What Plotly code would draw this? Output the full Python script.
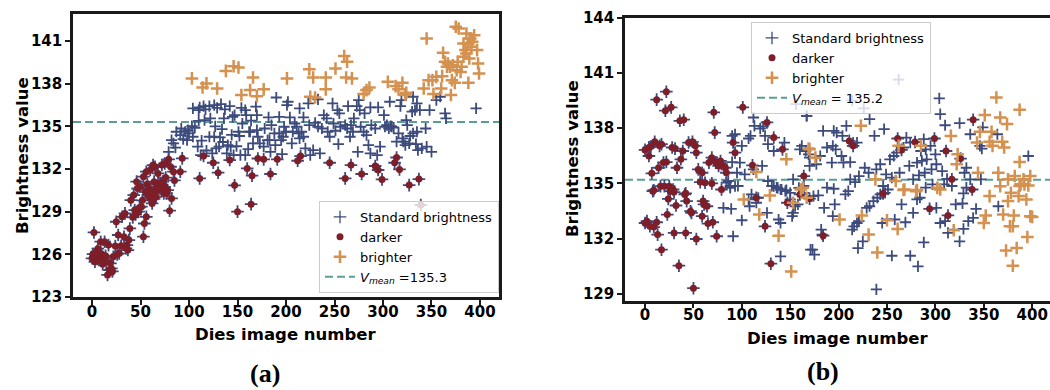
import plotly.graph_objects as go

# ---------------- data: panel (a) ----------------
A_STD_X = [79,84,82,87,91,92,96,99,103,104,98,109,112,104,110,111,115,121,126,133,142,122,110,121,126,132,140,128,139,146,153,158,152,158,159,145,147,169,170,171,162,131,143,116,136,151,166,
           86,94,100,106,113,118,127,134,135,144,149,155,161,164,117,129,137,154,124,
           163,177,181,184,189,193,197,196,206,207,211,213,216,218,220,225,228,235,237,243,245,254,256,263,266,269,274,283,285,287,294,297,302,306,309,314,320,323,328,331,334,336,340,345,350,344,
           182,190,193,201,202,204,214,218,223,233,239,242,248,253,255,261,264,270,273,275,276,281,287,288,295,301,307,318,319,324,330,331,333,335,338,348,355,359,364,365,396,
           170,178,185,198,200,209,224,230,233,249,251,267,277,280,292,304,308,311,316,321,327,335,325,214,195,183,173,188]
A_STD_Y = [133.21,133.80,134.03,134.62,134.38,134.85,134.62,134.74,135.02,134.27,134.03,133.57,132.98,136.26,136.14,136.33,136.42,136.42,136.49,136.56,136.42,135.56,135.39,134.27,134.27,134.22,133.68,133.45,133.10,132.98,132.98,132.98,134.32,136.14,135.79,135.67,135.79,136.38,135.79,134.27,134.62,133.57,133.57,135.44,135.56,134.62,133.80,
           133.50,134.10,134.50,134.90,134.00,133.30,135.00,134.80,133.90,134.40,133.60,135.20,133.40,135.40,136.20,136.30,136.20,136.30,133.10,
           134.62,133.57,134.03,133.21,133.68,134.50,134.27,133.05,133.80,134.62,134.97,134.50,134.62,134.27,133.45,132.98,133.33,133.10,134.85,134.62,134.27,133.75,134.97,134.85,134.27,134.62,133.21,134.38,133.68,133.10,132.98,133.57,134.97,134.85,134.97,133.92,134.15,133.68,134.32,134.50,133.75,133.33,133.45,133.57,133.21,134.85,
           135.63,137.03,135.67,136.49,136.73,135.63,136.26,135.63,136.61,136.89,135.79,135.56,136.61,136.14,135.91,135.09,136.42,135.56,136.42,136.84,136.14,135.91,136.33,135.09,136.33,135.79,136.73,136.42,136.84,135.44,136.03,137.08,136.14,136.61,136.14,136.14,136.84,137.08,135.91,135.56,136.26,
           134.74,134.85,135.09,134.97,134.62,135.20,135.09,135.25,134.97,135.20,134.69,135.09,134.97,134.62,134.85,135.09,135.02,134.92,134.50,133.92,133.80,134.62,135.09,134.15,134.03,134.03,133.80,134.50]

A_DARK_X = [2,0,1,5,3,7,8,10,12,9,13,16,18,20,19,15,24,17,22,25,27,28,31,34,33,36,37,35,39,40,43,47,44,48,51,53,54,56,57,62,58,63,67,70,75,74,77,80,82,66,71,
            53,56,60,63,65,68,72,75,79,81,84,91,93,67,64,59,61,78,73,50,46,
            4,6,11,14,21,26,30,38,42,45,49,52,55,59,64,69,76,85,
            111,115,125,130,142,147,160,165,171,150,164,177,184,191,212,215,245,261,267,278,292,295,299,312,314,317,327,337,339]
A_DARK_Y = [127.54,125.72,126.02,126.19,125.48,125.60,125.83,126.02,125.72,126.89,126.89,124.55,124.90,125.01,125.37,125.48,126.58,126.65,125.83,128.29,127.36,126.07,128.64,128.88,127.24,126.65,126.30,126.42,127.82,129.81,130.17,130.63,129.11,129.00,129.35,127.24,128.17,128.64,130.94,129.58,130.17,130.40,130.52,130.63,130.75,130.28,130.28,129.07,129.93,130.05,130.98,
            131.46,131.81,131.93,132.28,132.16,131.69,132.28,132.39,132.68,132.16,131.81,131.81,132.75,130.76,131.11,130.64,130.29,130.52,131.11,130.76,131.11,
            125.90,126.40,125.30,125.90,124.80,126.00,126.60,127.00,128.60,128.80,129.30,129.80,130.40,130.00,129.90,131.00,131.40,131.20,
            131.34,132.91,132.44,131.74,132.63,130.85,132.04,131.53,132.74,129.00,129.53,132.68,131.65,132.68,132.58,132.91,132.44,131.34,132.28,131.65,132.21,131.93,131.27,132.44,132.81,131.97,130.87,131.29,129.47]

A_BRIGHT_X = [103,114,118,129,138,146,151,154,163,166,170,177,201,224,228,225,230,241,241,251,260,263,262,268,280,283,286,305,313,316,320,323,324,345,
              342,347,351,355,361,362,364,366,369,371,374,376,377,383,386,390,394,391,389,375,378,398,399,397,360,352,370,
              383,388,385,381,380,386,392,388,367,372]
A_BRIGHT_Y = [138.37,137.73,138.02,137.66,138.90,139.23,139.14,137.20,137.55,138.44,137.12,137.60,138.37,139.02,138.44,137.08,137.03,138.44,137.60,139.07,139.94,139.54,138.44,138.37,137.27,137.55,137.73,138.13,137.83,137.60,138.06,137.20,137.36,141.18,
              137.66,138.25,138.25,138.48,138.53,140.17,139.54,139.19,139.19,138.25,138.06,138.95,139.54,139.89,141.53,141.18,141.41,140.59,139.77,142.00,141.88,139.42,138.72,140.36,137.66,137.27,137.20,
              140.83,140.83,140.36,139.19,138.83,140.12,140.94,138.07,139.42,139.30]
MEAN_A = 135.3

# ---------------- data: panel (b) ----------------
B_STD_X = [112,90,93,100,107,109,113,119,122,124,127,133,144,156,167,160,169,170,90,98,95,103,86,88,93,112,121,127,133,137,141,146,153,159,164,
           84,88,96,81,89,100,91,107,110,108,115,117,126,131,136,140,145,150,138,140,140,152,153,155,158,150,171,
           167,184,195,198,204,208,215,219,226,232,237,247,188,194,197,203,205,212,193,177,170,166,162,181,227,231,212,217,221,243,239,253,257,260,267,270,274,288,285,281,286,291,300,301,290,295,249,255,263,273,277,283,289,296,307,312,304,305,310,325,336,346,348,364,349,332,330,336,347,396,262,214,
           164,174,179,188,195,207,210,185,196,194,182,183,173,175,214,216,219,221,220,225,229,232,236,240,243,246,251,248,245,250,258,255,265,269,274,277,281,284,282,288,239,290,297,301,305,310,313,319,329,325,321,328,329,332,334,339,342,365,309,317]
B_STD_Y = [138.58,137.58,137.67,137.04,137.44,137.58,138.13,137.98,138.09,137.58,137.13,136.76,137.22,139.31,138.67,136.85,136.58,135.95,136.16,136.13,135.58,135.49,135.13,134.76,134.85,135.76,135.95,135.13,134.85,134.76,134.67,134.64,135.22,134.76,134.49,
           135.04,134.86,134.86,133.67,133.62,133.00,132.13,134.13,134.40,133.76,133.95,134.22,133.40,134.86,134.77,134.67,134.58,134.49,133.04,132.85,131.04,133.22,133.40,133.76,133.86,134.13,131.40,
           138.67,137.85,137.85,137.76,137.58,138.13,137.22,137.22,139.07,138.49,137.58,137.95,136.95,137.04,136.85,136.49,136.13,136.16,136.13,136.04,136.40,136.76,137.04,136.49,135.85,135.58,135.22,135.07,135.40,136.04,135.76,136.31,136.49,136.67,136.95,137.49,137.22,137.40,136.76,136.13,136.22,136.31,136.58,136.04,136.85,137.04,135.49,135.31,135.58,135.95,135.22,135.44,135.58,135.76,135.67,135.25,139.62,138.76,138.16,138.27,137.67,137.04,136.89,137.67,138.04,135.85,135.58,135.22,135.22,136.49,140.64,139.50,
           134.86,134.31,134.35,134.77,134.71,134.40,134.58,133.67,133.86,133.22,132.49,132.22,131.40,131.13,132.49,132.67,132.85,132.95,131.49,131.85,133.67,133.76,134.04,134.22,134.40,134.86,134.67,134.49,132.85,133.04,133.04,131.07,133.86,132.89,131.07,133.40,134.13,134.22,130.49,131.80,129.25,134.77,134.95,133.67,132.85,132.95,132.31,132.49,132.53,131.85,133.86,133.91,134.46,134.77,132.95,133.13,133.62,133.76,134.95,134.86]

B_DARK_X = [12,22,21,27,36,40,71,72,0,4,6,10,4,7,9,15,17,16,20,25,14,19,22,28,31,26,29,33,37,39,41,45,49,52,53,59,55,66,69,73,76,79,83,84,74,78,91,93,101,111,126,133,142,164,
            0,2,5,9,12,13,17,8,24,30,23,32,30,35,42,43,42,47,48,50,53,57,62,69,60,61,64,59,65,70,74,79,124,130,115,147,160,
            215,211,261,265,279,299,311,326,339,317,246,170,184,294,313,338]
B_DARK_Y = [139.55,139.98,138.95,139.13,138.40,138.46,138.86,137.76,136.82,136.95,137.00,137.26,136.49,135.55,134.63,137.04,137.13,134.85,134.85,134.85,135.85,136.13,136.16,136.95,136.89,134.58,134.67,135.85,136.31,136.76,134.40,137.22,137.26,137.04,136.67,135.58,135.76,136.13,136.40,136.13,135.95,136.04,135.85,135.58,136.13,136.22,137.22,136.67,139.13,135.98,138.31,137.49,136.85,135.40,
            132.85,132.95,132.67,132.63,132.89,132.22,131.40,134.58,134.16,134.53,133.31,133.80,132.31,130.53,134.46,134.04,132.31,133.49,133.40,129.31,131.98,135.07,135.04,135.00,134.04,133.86,133.76,133.22,132.82,132.89,132.13,134.67,132.67,130.64,134.22,133.95,134.40,
            137.04,137.31,137.44,136.82,137.25,137.44,136.76,136.35,138.46,135.22,134.45,134.17,132.16,133.62,133.26,134.67]

B_BRIGHT_X = [115,146,169,102,118,129,138,151,153,163,167,170,176,223,262,285,316,323,363,351,367,374,387,346,358,343,356,359,369,371,322,344,365,367,375,382,387,388,391,398,259,280,302,161,268,238,
              201,224,231,240,250,261,267,281,305,319,356,352,350,370,381,377,380,373,384,380,375,386,394,398,400,395,387,392,396,378]
B_BRIGHT_Y = [135.62,136.31,136.89,134.13,133.31,134.35,132.16,130.22,133.95,134.77,134.22,136.85,136.40,138.13,137.04,137.04,137.58,136.58,139.67,138.71,138.58,138.22,139.00,137.80,137.80,137.22,137.26,137.04,137.26,136.95,136.04,135.58,135.58,134.85,135.22,135.40,136.16,134.95,135.22,135.40,135.13,134.58,134.76,134.67,134.67,135.22,
              133.04,133.26,132.22,131.25,133.00,132.53,134.64,134.64,134.67,132.46,134.31,133.26,132.85,133.31,133.26,132.67,132.67,131.36,131.49,130.53,134.04,134.31,134.13,133.22,133.18,132.09,134.86,134.95,134.89,134.49]
MEAN_B = 135.2

LEGEND_NAMES = ["Standard brightness", "darker", "brighter"]

# ---------------- style ----------------
BLUE = "#3C4B7C"
RED = "#7E1E28"
ORANGE = "#D4914F"
TEAL = "#5A9E95"
AX = "#1a1a1a"

fig = go.Figure()


def add_panel(xa, ya, sx, sy, dx, dy, bx, by, mean, legend, mean_label):
    fig.add_trace(go.Scatter(x=sx, y=sy, mode="markers", xaxis=xa, yaxis=ya, showlegend=False,
                             marker=dict(symbol="cross-thin", size=8, color=BLUE,
                                         line=dict(width=1.8, color=BLUE))))
    fig.add_trace(go.Scatter(x=dx, y=dy, mode="markers", xaxis=xa, yaxis=ya, showlegend=False,
                             marker=dict(symbol="cross-thin", size=9, color=BLUE,
                                         line=dict(width=1.8, color=BLUE))))
    fig.add_trace(go.Scatter(x=dx, y=dy, mode="markers", xaxis=xa, yaxis=ya, showlegend=False,
                             marker=dict(symbol="circle", size=7, color=RED, line=dict(width=0))))
    fig.add_trace(go.Scatter(x=bx, y=by, mode="markers", xaxis=xa, yaxis=ya, showlegend=False,
                             marker=dict(symbol="cross-thin", size=9, color=ORANGE,
                                         line=dict(width=2.5, color=ORANGE))))
    fig.add_trace(go.Scatter(x=[None], y=[None], mode="markers", xaxis=xa, yaxis=ya, legend=legend,
                             name=LEGEND_NAMES[0],
                             marker=dict(symbol="cross-thin", size=9, color=BLUE,
                                         line=dict(width=1.3, color=BLUE))))
    fig.add_trace(go.Scatter(x=[None], y=[None], mode="markers", xaxis=xa, yaxis=ya, legend=legend,
                             name=LEGEND_NAMES[1],
                             marker=dict(symbol="circle", size=7, color=RED)))
    fig.add_trace(go.Scatter(x=[None], y=[None], mode="markers", xaxis=xa, yaxis=ya, legend=legend,
                             name=LEGEND_NAMES[2],
                             marker=dict(symbol="cross-thin", size=9, color=ORANGE,
                                         line=dict(width=2.6, color=ORANGE))))
    fig.add_trace(go.Scatter(x=[None], y=[None], mode="lines", xaxis=xa, yaxis=ya, legend=legend,
                             name=mean_label,
                             line=dict(color=TEAL, width=2, dash="8px,4px")))
    fig.add_shape(type="line", xref=xa + " domain", yref=ya, x0=0, x1=1, y0=mean, y1=mean,
                  line=dict(color=TEAL, width=2, dash="8px,4px"), layer="below")


add_panel("x", "y", A_STD_X, A_STD_Y, A_DARK_X, A_DARK_Y, A_BRIGHT_X, A_BRIGHT_Y, MEAN_A,
          "legend", "<i>V</i><sub><i>mean</i></sub> =%.1f" % MEAN_A)
add_panel("x2", "y2", B_STD_X, B_STD_Y, B_DARK_X, B_DARK_Y, B_BRIGHT_X, B_BRIGHT_Y, MEAN_B,
          "legend2", "<i>V</i><sub><i>mean</i></sub> = %.1f" % MEAN_B)

tickfont = dict(family="DejaVu Sans", size=15, color="black", weight="bold")
common = dict(showgrid=False, zeroline=False, ticks="outside", ticklen=5, tickwidth=1.8,
              tickcolor=AX, showline=True, linecolor=AX, linewidth=2.5, tickfont=tickfont,
              automargin=False)
xcommon = dict(common, ticklabelstandoff=-6)

legend_common = dict(font=dict(family="DejaVu Sans", size=13, color="black"),
                     bgcolor="rgba(255,255,255,0.8)", bordercolor="#cccccc", borderwidth=1,
                     itemwidth=30, tracegroupgap=0)

fig.update_layout(
    template="none",
    width=1050, height=390, margin=dict(l=0, r=0, t=0, b=0, pad=0),
    paper_bgcolor="white", plot_bgcolor="white",
    xaxis=dict(domain=[73 / 1050, 499 / 1050], range=[-19.6, 419.6], anchor="y",
               tickvals=[0, 50, 100, 150, 200, 250, 300, 350, 400], mirror=True, **xcommon),
    yaxis=dict(domain=[1 - 297 / 390, 1 - 14 / 390], range=[123, 142.9], anchor="x",
               tickvals=[123, 126, 129, 132, 135, 138, 141], mirror=True, **common),
    xaxis2=dict(domain=[625 / 1050, 1.0], range=[-20.7, 418.4], anchor="y2",
                tickvals=[0, 50, 100, 150, 200, 250, 300, 350, 400], mirror=True, **xcommon),
    yaxis2=dict(domain=[1 - 300.7 / 390, 1 - 17.7 / 390], range=[128.63, 144], anchor="x2",
                tickvals=[129, 132, 135, 138, 141, 144], mirror=False, **common),
    legend=dict(x=499 / 1050, y=1 - 293 / 390, xanchor="right", yanchor="bottom", **legend_common),
    legend2=dict(x=751 / 1050, y=1 - 22 / 390, xanchor="left", yanchor="top", **legend_common),
)

title_font = dict(family="DejaVu Sans", size=16.5, color="black", weight="bold")
serif_font = dict(family="Liberation Serif", size=26, color="black", weight="bold")
annots = [
    dict(text="Brightness value", x=22 / 1050, y=1 - 156 / 390, textangle=-90, font=title_font),
    dict(text="Dies image number", x=286 / 1050, y=1 - 334 / 390, font=title_font),
    dict(text="Brightness value", x=572 / 1050, y=1 - 159 / 390, textangle=-90, font=title_font),
    dict(text="Dies image number", x=838 / 1050, y=1 - 338 / 390, font=title_font),
    dict(text="(a)", x=265 / 1050, y=1 - 373 / 390, font=serif_font),
    dict(text="(b)", x=823 / 1050, y=1 - 371 / 390, font=serif_font),
]
for a in annots:
    fig.add_annotation(xref="paper", yref="paper", showarrow=False, xanchor="center",
                       yanchor="middle", **a)

fig.write_html("out.html")
